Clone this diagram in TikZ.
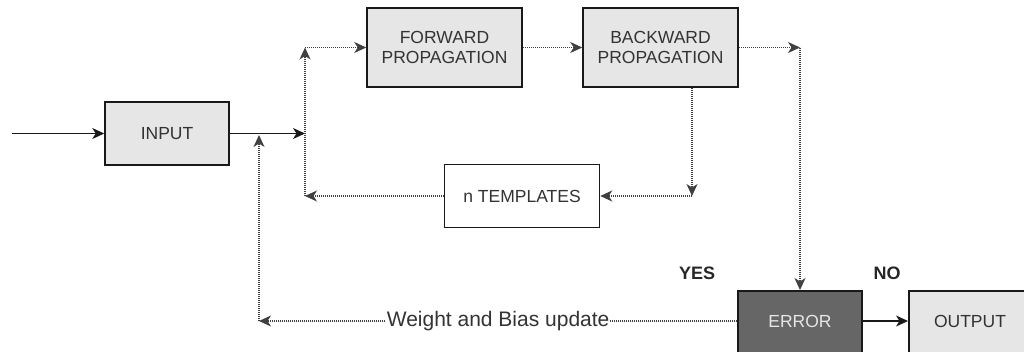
\documentclass[tikz,border=0pt]{standalone}
\usepackage{fontspec}
\setmainfont{Liberation Sans}
\usetikzlibrary{positioning,arrows.meta}
\definecolor{boxgray}{HTML}{E6E6E6}
\definecolor{errgray}{HTML}{666666}
\definecolor{txtgray}{HTML}{333333}

\begin{document}
\begin{tikzpicture}[x=1pt,y=-1pt,
    box/.style={draw=black!90,line width=1.5pt,fill=boxgray,text=txtgray,align=center,
        font=\fontsize{17.5}{20}\selectfont,inner sep=0pt},
    solidarrow/.style={line width=1.4pt,black!90,-{Stealth[length=12pt,width=11pt,inset=3.5pt]}},
    dotarrow/.style={line width=1.1pt,black!75,dash pattern=on 1pt off 1pt,
        -{Stealth[length=12pt,width=11pt,inset=3.5pt]}}]
\useasboundingbox (0,0) rectangle (1024,351);

\node[box,minimum width=124pt,minimum height=63pt] (input) at (167,133.5) {INPUT};
\node[box,minimum width=155pt,minimum height=79pt] (fwd) at (444.5,47.5) {FORWARD\\PROPAGATION};
\node[box,minimum width=155pt,minimum height=79pt] (bwd) at (660.5,47.5) {BACKWARD\\PROPAGATION};
\node[box,fill=white,minimum width=155pt,minimum height=63pt] (tmpl) at (522,196) {n TEMPLATES};
\node[box,fill=errgray,text=boxgray,minimum width=124pt,minimum height=70pt,
    anchor=north] (error) at (800,290) {};
\node[box,minimum width=130pt,minimum height=70pt,anchor=north west] (output) at (908,290) {};
\node[text=boxgray,font=\fontsize{17.5}{20}\selectfont] (errtxt) at (800,321) {ERROR};
\node[text=txtgray,font=\fontsize{17.5}{20}\selectfont] (outtxt) at (970,321) {OUTPUT};

\coordinate (start) at (12,133.5);
\coordinate (join) at (305,133.5);
\coordinate (tl) at (305,47.5);
\coordinate (bl) at (305,196);
\coordinate (tr) at (800,47.5);
\coordinate (br) at (692,196);
\coordinate (ll) at (259,321);
\coordinate (up) at (259,135);

\draw[solidarrow] (start) -- (input);
\draw[solidarrow] (input) -- (join);
\draw[dotarrow] (bl) -- (tl);
\draw[dotarrow] (tl) -- (fwd);
\draw[dotarrow] (fwd) -- (bwd);
\draw[dotarrow] (bwd) -- (tr);
\draw[dotarrow] (tr) -- (error);
\draw[dotarrow] (bwd.south -| br) -- (br);
\draw[dotarrow] (br) -- (tmpl);
\draw[dotarrow] (tmpl) -- (bl);
\draw[dotarrow] (error.west |- errtxt) -- node[fill=white,text=txtgray,inner sep=1pt,
    font=\fontsize{21}{24}\selectfont] (update) {Weight and Bias update} (ll);
\draw[dotarrow] (ll) -- (up);
\draw[solidarrow] (error.east |- errtxt) -- (output.west |- outtxt);

\node[font=\bfseries\fontsize{18}{20}\selectfont,text=black!85] (yes) at (697,273) {YES};
\node[font=\bfseries\fontsize{18}{20}\selectfont,text=black!85] (no) at (887,273) {NO};
\end{tikzpicture}
\end{document}
